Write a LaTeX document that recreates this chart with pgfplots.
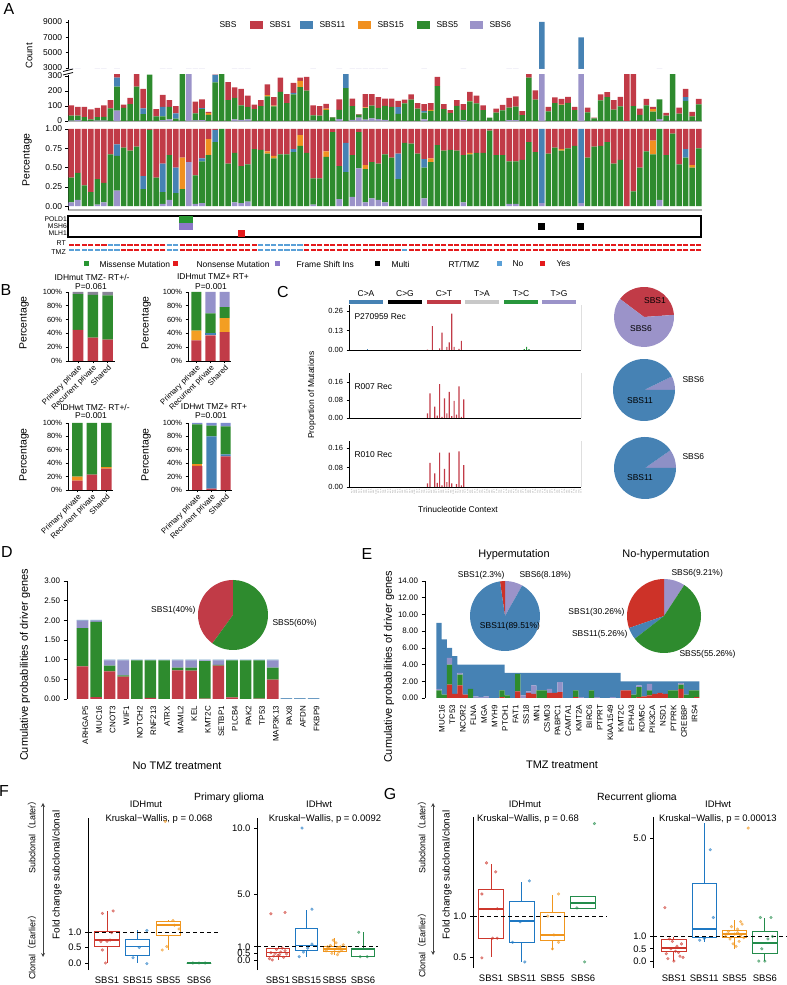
\documentclass[border=0pt]{standalone}
\usepackage{pgfplots}
\pgfplotsset{compat=1.18}
\usepackage{pgfplotstable}
\usepgfplotslibrary{statistics}
\usepackage{fontspec}
\setmainfont{Liberation Sans}
\newfontfamily\cjk{Noto Sans CJK SC}
\newcommand{\fs}[1]{\fontsize{#1}{#1}\selectfont}

\definecolor{sA}{RGB}{193,59,71}
\definecolor{sK}{RGB}{70,130,180}
\definecolor{sF}{RGB}{240,144,32}
\definecolor{sG}{RGB}{46,139,46}
\definecolor{sP}{RGB}{155,147,201}
\definecolor{mG}{RGB}{40,150,50}
\definecolor{mR}{RGB}{228,26,28}
\definecolor{mP}{RGB}{140,120,200}
\definecolor{tno}{RGB}{90,160,215}
\definecolor{tyes}{RGB}{228,26,28}
\definecolor{bR}{RGB}{205,55,45}
\definecolor{bB}{RGB}{30,120,195}
\definecolor{bO}{RGB}{240,150,30}
\definecolor{bG}{RGB}{35,140,75}
\definecolor{eR}{RGB}{205,50,40}
\definecolor{sY}{RGB}{250,190,40}
\definecolor{sQ}{RGB}{125,140,205}
\definecolor{cGr}{RGB}{200,200,200}
\definecolor{cGn}{RGB}{40,150,60}

\newcommand{\pieslice}[4]{\fill[#4] (axis cs:0,0) -- ++(#1:#3) arc[start angle=#1, end angle=#2, radius=#3] -- cycle;}

\pgfplotsset{
  /pgf/number format/assume math mode=true,
  every axis/.append style={scale only axis, font=\fs{8},
    tick align=outside, major tick length=2.5bp,
    tick style={black, line width=0.6bp}, axis line style={line width=0.8bp}},
  bxax/.style={axis y line*=left, axis x line*=bottom, x axis line style={draw=none},
    xtick style={draw=none}, xtick={1,2,3,4}, font=\fs{9.5}, major tick length=3bp,
    yticklabel style={/pgf/number format/.cd,fixed,fixed zerofill,precision=1},
    boxplot/draw direction=y,
    boxplot/box extend=0.8, boxplot/whisker extend=0,
    boxplot/every median/.style={line width=1.8bp}},
  pts/.style={only marks, mark=*, mark size=1.4bp, opacity=0.55, mark options={draw=none}},
  bstk/.style={ybar stacked, bar width=0.72, ymin=0, ymax=100, axis lines*=left,
    ytick={0,20,40,60,80,100}, yticklabels={0\%,20\%,40\%,60\%,80\%,100\%},
    xtick={1,2,3}, xticklabels={Primary private,Recurrent private,Shared},
    xticklabel style={rotate=45, anchor=north east, inner sep=0.5pt, font=\fs{7.8}}, font=\fs{7.5}},
}

% Panel A data: counts (c*) and fractions (p*) for SBS6, SBS5, SBS11, SBS15, SBS1; RT and TMZ (1 yes, 0 no)
\pgfplotstableread{
i c6 c5 c11 c15 c1 p6 p5 p11 p15 p1 rt tmz
0 3 32 0 0 70 0.05 0.32 0 0 0.63 1 0
1 5 30 0 0 60 0.08 0.35 0 0 0.57 1 0
2 0 25 0 0 70 0 0.27 0 0 0.73 1 0
3 0 10 0 0 68 0 0.18 0 0 0.82 1 0
4 2 23 0 0 63 0.02 0.33 0 0 0.65 1 0
5 3 25 0 0 77 0.05 0.25 0 0 0.70 1 0
6 0 85 0 0 55 0 0.67 0 0 0.33 0 0
7 70 160 60 0 30 0.20 0.45 0.15 0 0.20 0 0
8 0 88 0 0 22 0 0.76 0 0 0.24 1 1
9 0 113 0 0 42 0 0.72 0 0 0.28 1 1
10 0 230 0 0 90 0 0.77 0 0 0.23 1 1
11 0 45 40 0 130 0 0.22 0.17 0 0.61 1 1
12 0 310 0 0 0 0 0.99 0 0 0.01 1 1
13 0 30 0 0 50 0 0.37 0 0 0.63 1 1
14 5 25 65 0 80 0.03 0.15 0.37 0 0.45 1 1
15 10 85 0 0 45 0.08 0.58 0 0 0.34 0 0
16 0 15 35 0 50 0 0.17 0.33 0 0.50 0 0
17 0 330 0 615 555 0 0.22 0 0.41 0.37 1 1
18 342 0 0 0 258 0.57 0 0 0 0.43 1 1
19 4 46 0 0 80 0.03 0.37 0 0 0.60 1 1
20 6 74 6 0 59 0.04 0.54 0.04 0 0.38 1 1
21 0 40 0 12 8 0 0.66 0 0.21 0.13 1 1
22 0 257 50 0 3 0 0.83 0.16 0 0.01 1 1
23 0 350 0 0 0 0 1 0 0 0 1 1
24 0 140 0 0 120 0 0.55 0 0 0.45 1 1
25 10 145 0 0 70 0.05 0.64 0 0 0.31 1 1
26 8 97 0 0 110 0.04 0.48 0 0 0.48 1 1
27 10 85 0 0 75 0.06 0.48 0 0 0.46 1 1
28 0 80 0 0 30 0 0.74 0 0 0.26 1 1
29 0 100 0 0 40 0 0.73 0 0 0.27 0 0
30 0 165 0 7 73 0 0.68 0 0.03 0.29 0 0
31 0 98 0 5 57 0 0.62 0 0.03 0.35 0 0
32 0 195 0 0 95 0 0.67 0 0 0.33 0 0
33 0 120 0 0 60 0 0.67 0 0 0.33 0 0
34 0 178 10 0 67 0 0.70 0.04 0 0.26 0 0
35 0 226 0 41 23 0 0.78 0 0.14 0.08 0 0
36 0 203 0 0 92 0 0.69 0 0 0.31 1 1
37 2 36 0 0 67 0.02 0.34 0 0 0.64 1 1
38 0 36 0 0 64 0 0.36 0 0 0.64 1 1
39 0 74 0 8 33 0 0.64 0 0.07 0.29 1 1
40 0 24 0 0 1 0 0.96 0 0 0.04 1 1
41 13 62 0 0 70 0.09 0.43 0 0 0.48 1 1
42 0 220 190 0 90 0 0.44 0.38 0 0.18 1 1
43 8 91 0 0 51 0.12 0.54 0 0 0.34 1 1
44 22 21 0 0 2 0.49 0.47 0 0 0.04 1 1
45 9 77 0 5 89 0.05 0.43 0 0.05 0.47 1 1
46 18 85 0 0 77 0.10 0.47 0 0 0.43 1 1
47 13 75 0 0 72 0.08 0.47 0 0 0.45 1 1
48 8 93 0 0 49 0.05 0.62 0 0 0.33 1 1
49 0 95 0 0 55 0 0.63 0 0 0.37 1 1
50 0 47 45 0 43 0 0.35 0.33 0 0.32 1 1
51 0 117 0 0 26 0 0.82 0 0 0.18 1 0
52 0 143 0 0 34 0 0.81 0 0 0.19 1 1
53 0 82 0 0 38 0 0.68 0 0 0.32 1 1
54 11 45 12 0 44 0.10 0.40 0.11 0 0.39 1 1
55 0 68 0 6 46 0 0.57 0 0.05 0.38 1 1
56 0 233 0 0 62 0 0.79 0 0 0.21 1 1
57 0 80 0 0 32 0 0.72 0 0 0.28 1 1
58 0 53 0 0 19 0 0.73 0 0 0.27 1 1
59 0 101 0 0 39 0 0.72 0 0 0.28 1 1
60 6 68 0 0 38 0.05 0.61 0 0 0.34 1 1
61 0 131 0 4 60 0 0.67 0 0.02 0.31 1 1
62 0 117 0 0 53 0 0.69 0 0 0.31 1 1
63 0 72 0 0 33 0 0.69 0 0 0.31 1 1
64 0 22 0 0 0 0 0.98 0 0 0.02 1 1
65 0 55 0 0 28 0 0.66 0 0 0.34 1 1
66 0 71 0 0 36 0 0.66 0 0 0.34 1 1
67 5 84 0 0 65 0.03 0.55 0 0 0.42 1 1
68 5 91 0 0 69 0.03 0.55 0 0 0.42 1 1
69 0 39 0 0 26 0 0.60 0 0 0.40 1 1
70 0 290 0 0 60 0 0.83 0 0 0.17 1 1
71 0 143 0 0 62 0 0.70 0 0 0.30 1 1
72 400 0 8600 0 0 0.04 0 0.96 0 0 1 1
73 0 64 0 0 30 0 0.68 0 0 0.32 1 1
74 0 119 0 0 38 0 0.76 0 0 0.24 1 1
75 0 107 0 3 38 0 0.72 0 0.02 0.26 1 1
76 0 121 0 0 40 0 0.75 0 0 0.25 1 1
77 0 73 0 0 21 0 0.78 0 0 0.22 1 1
78 400 0 6600 0 0 0.04 0 0.96 0 0 1 1
79 0 57 0 0 33 0 0.63 0 0 0.37 1 1
80 0 17 0 0 5 0 0.77 0 0 0.23 1 1
81 0 138 0 0 39 0 0.78 0 0 0.22 1 1
82 0 159 0 0 33 0 0.83 0 0 0.17 1 1
83 0 76 0 0 63 0 0.55 0 0 0.45 1 1
84 0 97 0 0 64 0 0.60 0 0 0.40 1 1
85 0 0 0 0 400 0 0 0 0 1 1 1
86 0 99 0 0 421 0 0.19 0 0 0.81 1 1
87 0 41 0 0 42 0 0.50 0 0 0.50 1 1
88 0 105 0 0 43 0 0.71 0 0 0.29 1 1
89 0 63 0 17 14 0 0.67 0 0.18 0.15 1 1
90 12 133 0 0 0 0.08 0.92 0 0 0 1 1
91 0 36 0 0 18 0 0.66 0 0 0.34 1 1
92 0 376 0 0 24 0 0.94 0 0 0.06 1 1
93 0 49 0 0 41 0 0.54 0 0 0.46 1 1
94 0 135 24 0 56 0 0.63 0.11 0 0.26 1 1
95 0 30 0 2 28 0 0.50 0 0.03 0.47 1 1
96 0 111 0 0 37 0 0.75 0 0 0.25 1 1
}\tabA

\pgfplotstableread{
k r g p b
0 0.83 0.97 0.19 0.02
1 0.05 1.91 0.03 0.02
2 0.70 0.15 0.13 0.02
3 0.57 0.03 0.38 0.02
4 0.00 0.98 0.00 0.02
5 0.03 0.95 0.00 0.02
6 0.00 0.98 0.00 0.02
7 0.73 0.07 0.18 0.02
8 0.72 0.08 0.18 0.02
9 0.01 0.95 0.02 0.02
10 0.85 0.02 0.11 0.02
11 0.04 0.94 0.00 0.02
12 0.00 0.98 0.00 0.02
13 0.01 0.97 0.00 0.02
14 0.49 0.31 0.18 0.02
15 0 0 0 0.02
16 0 0 0 0.02
17 0 0 0 0.02
}\tabD

\pgfplotstableread{
k r g p b
0 0 0.9 0.2 7.9
1 0 0.4 0 6.6
2 1.6 2.4 0.8 1.2
3 0.5 0 0 4.5
4 1.5 1.3 0.2 1.0
5 0.4 0 0 3.6
6 0 1.1 0 2.9
7 0 0 0.2 3.8
8 0 0 0.1 3.9
9 0 0 0.2 3.8
10 0 0 0 4
11 0 0 0 4
12 0.1 0.8 0 3.1
13 0 0.3 0 2.7
14 0 0 0 3
15 0.8 2.1 0 0.1
16 0 0 0.3 2.7
17 0.6 0 0.2 2.2
18 0.5 0 1.0 1.5
19 0 0.9 0 2.1
20 0 0.9 0 2.1
21 0.6 0 0.5 1.9
22 0.6 0 0 2.4
23 0.7 0 1.2 1.1
24 0 0 0 3
25 0 0 0 3
26 0.1 0.8 0 2.1
27 0 0 0.1 2.9
28 0 0 0 3
29 0 0.9 0 2.1
30 0 0 0.1 2.9
31 0 0 0 3
32 0 0 0 3
33 0 0 0.1 2.9
34 0 0 0 3
35 0.9 0 0 1.1
36 0.9 0 0 1.1
37 0 0.4 0 1.6
38 0.1 1.2 0.2 0.5
39 0.2 0 0 1.8
40 0.3 0.6 0.8 0.3
41 0.5 0 0 1.5
42 0.6 0 0 1.4
43 0.5 0 0 1.5
44 0 0.9 0 1.1
45 0 0.9 0 1.1
46 1.1 0.5 0.2 0.2
47 0 0.4 0 1.6
48 0 0.9 0 1.1
49 0.1 0.8 0 1.1
}\tabE

\begin{document}
\begin{tikzpicture}
\useasboundingbox (0,0) rectangle (787bp,985bp);

%================ A ================
\node[font=\fs{16}] at (9bp,976bp) {A};
\node[anchor=west,font=\fs{8.5}] at (216bp,960bp) {SBS};
\fill[sA] (250bp,956bp) rectangle (263bp,964bp); \node[anchor=west,font=\fs{8.5}] at (266bp,960bp){SBS1};
\fill[sK] (300bp,956bp) rectangle (313bp,964bp); \node[anchor=west,font=\fs{8.5}] at (316bp,960bp){SBS11};
\fill[sF] (358bp,956bp) rectangle (371bp,964bp); \node[anchor=west,font=\fs{8.5}] at (374bp,960bp){SBS15};
\fill[sG] (417bp,956bp) rectangle (430bp,964bp); \node[anchor=west,font=\fs{8.5}] at (433bp,960bp){SBS5};
\fill[sP] (470bp,956bp) rectangle (483bp,964bp); \node[anchor=west,font=\fs{8.5}] at (486bp,960bp){SBS6};
\node[rotate=90,font=\fs{9.5}] at (29bp,929bp) {Count};
\node[rotate=90,font=\fs{10.5}] at (27bp,825bp) {Percentage};

% count, lower part
\begin{axis}[at={(68bp,864bp)}, anchor=south west, width=634bp, height=46bp, font=\fs{8.5},
  xmin=-0.5, xmax=96.5, ymin=0, ymax=307, ybar stacked, bar width=0.85,
  axis lines*=left, x axis line style={draw=gray!60, line width=1.6bp},
  xtick=\empty, ytick={0,100,200,300}]
\addplot[fill=sP, draw=none] table[x=i,y=c6]{\tabA};
\addplot[fill=sG, draw=none] table[x=i,y=c5]{\tabA};
\addplot[fill=sK, draw=none] table[x=i,y=c11]{\tabA};
\addplot[fill=sF, draw=none] table[x=i,y=c15]{\tabA};
\addplot[fill=sA, draw=none] table[x=i,y=c1]{\tabA};
\end{axis}
% count, upper part
\begin{axis}[at={(68bp,916bp)}, anchor=south west, width=634bp, height=49bp, font=\fs{8.5},
  xmin=-0.5, xmax=96.5, ymin=2870, ymax=9260, ybar stacked, bar width=0.85,
  axis x line=none, axis y line*=left,
  ytick={3000,5000,7000,9000}, yticklabels={3000,5000,7000,9000}]
\addplot[fill=sP, draw=none] table[x=i,y=c6]{\tabA};
\addplot[fill=sG, draw=none] table[x=i,y=c5]{\tabA};
\addplot[fill=sK, draw=none] table[x=i,y=c11]{\tabA};
\addplot[fill=sF, draw=none] table[x=i,y=c15]{\tabA};
\addplot[fill=sA, draw=none] table[x=i,y=c1]{\tabA};
\end{axis}
\fill[white] (64bp,911bp) rectangle (72bp,915bp);
\draw[line width=0.8bp] (63bp,910bp) -- (73bp,912.5bp);
\draw[line width=0.8bp] (63bp,913.5bp) -- (73bp,916bp);

% percentage
\begin{axis}[at={(68bp,775bp)}, anchor=south west, width=634bp, height=81bp, font=\fs{8.5},
  xmin=-0.5, xmax=96.5, ymin=-0.05, ymax=1.0, ybar stacked, bar width=0.85,
  axis lines*=left, x axis line style={draw=gray!60, line width=1.6bp},
  xtick=\empty, ytick={0,0.25,0.5,0.75,1},
  yticklabel style={/pgf/number format/.cd, fixed, fixed zerofill, precision=2}]
\addplot[fill=sP, draw=none] table[x=i,y=p6]{\tabA};
\addplot[fill=sG, draw=none] table[x=i,y=p5]{\tabA};
\addplot[fill=sK, draw=none] table[x=i,y=p11]{\tabA};
\addplot[fill=sF, draw=none] table[x=i,y=p15]{\tabA};
\addplot[fill=sA, draw=none] table[x=i,y=p1]{\tabA};
\end{axis}

% mutation heatmap
\begin{axis}[at={(68bp,748bp)}, anchor=south west, width=633bp, height=21bp,
  xmin=-0.5, xmax=96.5, ymin=0, ymax=3, axis line style={line width=1.1bp},
  xtick=\empty, ytick={0.5,1.5,2.5}, yticklabels={MLH1,MSH6,POLD1}, major tick length=0pt,
  yticklabel style={font=\fs{6.8}, inner sep=1pt}]
\addplot[only marks, mark=square*, mark size=3.2bp, color=mG] coordinates {(17,2.5) (18,2.5)};
\addplot[only marks, mark=square*, mark size=3.2bp, color=mP] coordinates {(17,1.5) (18,1.5)};
\addplot[only marks, mark=square*, mark size=3.2bp, color=mR] coordinates {(26,0.5)};
\addplot[only marks, mark=square*, mark size=2.8bp, color=black] coordinates {(72,1.5) (78,1.5)};
\end{axis}

% RT / TMZ tracks
\begin{axis}[at={(68bp,733bp)}, anchor=south west, width=634bp, height=9bp, hide axis,
  xmin=-0.5, xmax=96.5, ymin=-0.5, ymax=1.5, clip=false]
\addplot[scatter, only marks, scatter src=explicit symbolic, mark size=2.6bp, line width=1.8bp,
  scatter/classes={0={mark=-, tno}, 1={mark=-, tyes}}] table[x=i, y expr=1, meta=rt]{\tabA};
\addplot[scatter, only marks, scatter src=explicit symbolic, mark size=2.6bp, line width=1.8bp,
  scatter/classes={0={mark=-, tno}, 1={mark=-, tyes}}] table[x=i, y expr=0, meta=tmz]{\tabA};
\end{axis}
\node[anchor=east,font=\fs{7}, inner sep=1pt] at (67bp,742bp) {RT};
\node[anchor=east,font=\fs{7}, inner sep=1pt] at (67bp,733bp) {TMZ};

% legend row
\begin{scope}[font=\fs{8.5}]
\fill[mG] (84bp,718.5bp) rectangle (89bp,723.5bp); \node[anchor=west] at (96bp,721bp) {Missense Mutation};
\fill[mR] (173bp,718.5bp) rectangle (178bp,723.5bp); \node[anchor=west] at (193bp,721bp) {Nonsense Mutation};
\fill[mP] (275bp,718.5bp) rectangle (280bp,723.5bp); \node[anchor=west] at (293bp,721bp) {Frame Shift Ins};
\fill[black] (375bp,718.5bp) rectangle (380bp,723.5bp); \node[anchor=west] at (388bp,721bp) {Multi};
\node[anchor=west] at (445bp,721bp) {RT/TMZ};
\fill[tno] (497bp,718.5bp) rectangle (502bp,723.5bp); \node[anchor=west] at (509bp,721bp) {No};
\fill[tyes] (540bp,718.5bp) rectangle (545bp,723.5bp); \node[anchor=west] at (553bp,721bp) {Yes};
\end{scope}

%================ B ================
\node[font=\fs{16}] at (6bp,695bp) {B};
\begin{scope}[font=\fs{8.5}]
\node at (92bp,708bp) {IDHmut TMZ- RT+/-}; \node at (91bp,698bp) {P=0.061};
\node at (213bp,708bp) {IDHmut TMZ+ RT+}; \node at (211bp,698bp) {P=0.001};
\node at (95bp,578bp) {IDHwt TMZ- RT+/-}; \node at (91bp,569bp) {P=0.001};
\node at (214bp,578bp) {IDHwt TMZ+ RT+}; \node at (211bp,569bp) {P=0.001};
\end{scope}
\node[rotate=90,font=\fs{10.5}] at (24bp,662bp) {Percentage};
\node[rotate=90,font=\fs{10.5}] at (146bp,662bp) {Percentage};
\node[rotate=90,font=\fs{10.5}] at (24bp,530bp) {Percentage};
\node[rotate=90,font=\fs{10.5}] at (146bp,530bp) {Percentage};

\begin{axis}[bstk, at={(68bp,624bp)}, anchor=south west, width=47bp, height=69bp, xmin=0.32, xmax=3.5]
\addplot[fill=sA, draw=none] coordinates {(1,45) (2,34) (3,31)};
\addplot[fill=sG, draw=none] coordinates {(1,52) (2,62) (3,64)};
\addplot[fill=gray!70!sP, draw=none] coordinates {(1,3) (2,4) (3,5)};
\end{axis}
\begin{axis}[bstk, at={(188bp,624bp)}, anchor=south west, width=43bp, height=69bp, xmin=0.41, xmax=3.45]
\addplot[fill=sA, draw=none] coordinates {(1,30) (2,37) (3,42)};
\addplot[fill=sF!70!sY, draw=none] coordinates {(1,14) (2,0) (3,20)};
\addplot[fill=sK, draw=none] coordinates {(1,0) (2,3) (3,0)};
\addplot[fill=sG, draw=none] coordinates {(1,56) (2,29) (3,16)};
\addplot[fill=sP!80!sQ, draw=none] coordinates {(1,0) (2,31) (3,22)};
\end{axis}
\begin{axis}[bstk, at={(68bp,495bp)}, anchor=south west, width=45bp, height=67bp, xmin=0.35, xmax=3.45]
\addplot[fill=sA, draw=none] coordinates {(1,14) (2,23) (3,32)};
\addplot[fill=sF, draw=none] coordinates {(1,6) (2,0) (3,2)};
\addplot[fill=sG, draw=none] coordinates {(1,80) (2,77) (3,66)};
\end{axis}
\begin{axis}[bstk, at={(188bp,495bp)}, anchor=south west, width=44bp, height=67bp, xmin=0.35, xmax=3.45]
\addplot[fill=sA, draw=none] coordinates {(1,36) (2,2) (3,50)};
\addplot[fill=sF, draw=none] coordinates {(1,3) (2,0) (3,0)};
\addplot[fill=sK, draw=none] coordinates {(1,0) (2,78) (3,3)};
\addplot[fill=sG, draw=none] coordinates {(1,59) (2,16) (3,42)};
\addplot[fill=sQ, draw=none] coordinates {(1,2) (2,4) (3,5)};
\end{axis}

%================ C ================
\node[font=\fs{16}] at (283bp,693bp) {C};
\begin{scope}[font=\fs{8.5}]
\fill[sK] (349bp,681bp) rectangle (383bp,685bp); \node at (366bp,691bp) {C>A};
\fill[black] (388bp,681bp) rectangle (422bp,685bp); \node at (405bp,691bp) {C>G};
\fill[sA] (427bp,681bp) rectangle (461bp,685bp); \node at (444bp,691bp) {C>T};
\fill[cGr] (465bp,681bp) rectangle (499bp,685bp); \node at (482bp,691bp) {T>A};
\fill[cGn] (504bp,681bp) rectangle (538bp,685bp); \node at (521bp,691bp) {T>C};
\fill[sP] (542bp,681bp) rectangle (576bp,685bp); \node at (559bp,691bp) {T>G};
\node[rotate=90] at (312bp,590bp) {Proportion of Mutations};
\node[anchor=west] at (351bp,668bp) {P270959 Rec};
\node[anchor=west] at (351bp,598bp) {R007 Rec};
\node[anchor=west] at (351bp,530bp) {R010 Rec};
\node at (458bp,476bp) {Trinucleotide Context};
\end{scope}

\begin{axis}[at={(349bp,635bp)}, anchor=south west, width=232bp, height=45bp,
  xmin=-0.5, xmax=95.5, ymin=0, ymax=0.30, axis lines*=left, font=\fs{7.5},
  xtick=\empty, ytick={0,0.13,0.26},
  yticklabel style={/pgf/number format/.cd, fixed, fixed zerofill, precision=2}]
\addplot[ybar, bar width=0.5, bar shift=0pt, fill=sA, draw=none] coordinates {(32,0.003) (34,0.159) (37,0.01) (38,0.115) (40,0.02) (41,0.05) (42,0.242) (43,0.02) (45,0.008) (46,0.06)};
\addplot[ybar, bar width=0.5, bar shift=0pt, fill=cGn, draw=none] coordinates {(72,0.005) (73,0.02) (74,0.005)};
\addplot[ybar, bar width=0.5, bar shift=0pt, fill=sK, draw=none] coordinates {(7,0.006)};
\draw[line width=0.8bp] (rel axis cs:1,0) -- (rel axis cs:1,1);
\end{axis}
\begin{axis}[at={(349bp,567bp)}, anchor=south west, width=232bp, height=45bp,
  xmin=-0.5, xmax=95.5, ymin=0, ymax=0.20, axis lines*=left, font=\fs{7.5},
  xtick=\empty, ytick={0,0.08,0.16},
  yticklabel style={/pgf/number format/.cd, fixed, fixed zerofill, precision=2}]
\addplot[ybar, bar width=0.5, bar shift=0pt, fill=sA, draw=none] coordinates {(32,0.02) (33,0.109) (35,0.05) (36,0.01) (37,0.150) (38,0.005) (39,0.087) (40,0.02) (41,0.116) (42,0.008) (43,0.076) (44,0.015) (45,0.14) (46,0.005) (47,0.083)};
\draw[line width=0.8bp] (rel axis cs:1,0) -- (rel axis cs:1,1);
\end{axis}
\begin{axis}[at={(349bp,498bp)}, anchor=south west, width=232bp, height=46bp,
  xmin=-0.5, xmax=95.5, ymin=0, ymax=0.19, axis lines*=left, font=\fs{7.5},
  ytick={0,0.08,0.16},
  yticklabel style={/pgf/number format/.cd, fixed, fixed zerofill, precision=2},
  xtick={0,...,95}, xtick style={draw=none},
  xticklabels={ACA,ACC,ACG,ACT,CCA,CCC,CCG,CCT,GCA,GCC,GCG,GCT,TCA,TCC,TCG,TCT,ACA,ACC,ACG,ACT,CCA,CCC,CCG,CCT,GCA,GCC,GCG,GCT,TCA,TCC,TCG,TCT,ACA,ACC,ACG,ACT,CCA,CCC,CCG,CCT,GCA,GCC,GCG,GCT,TCA,TCC,TCG,TCT,ATA,ATC,ATG,ATT,CTA,CTC,CTG,CTT,GTA,GTC,GTG,GTT,TTA,TTC,TTG,TTT,ATA,ATC,ATG,ATT,CTA,CTC,CTG,CTT,GTA,GTC,GTG,GTT,TTA,TTC,TTG,TTT,ATA,ATC,ATG,ATT,CTA,CTC,CTG,CTT,GTA,GTC,GTG,GTT,TTA,TTC,TTG,TTT},
  xticklabel style={rotate=90, anchor=east, font=\fs{1.9}, text=gray, inner sep=0pt, yshift=-1.5bp}]
\addplot[ybar, bar width=0.5, bar shift=0pt, fill=sA, draw=none] coordinates {(32,0.015) (33,0.10) (35,0.056) (36,0.017) (37,0.142) (38,0.007) (39,0.075) (40,0.02) (41,0.142) (42,0.015) (44,0.012) (45,0.147) (46,0.007) (47,0.09)};
\draw[line width=0.8bp] (rel axis cs:1,0) -- (rel axis cs:1,1);
\end{axis}

% pies C
\begin{axis}[at={(644bp,668bp)}, anchor=center, width=60bp, height=60bp, hide axis, xmin=-30, xmax=30, ymin=-30, ymax=30, clip=false]
\pieslice{4}{143}{30bp}{sA}
\pieslice{143}{364}{30bp}{sP}
\end{axis}
\begin{axis}[at={(644bp,595bp)}, anchor=center, width=62bp, height=62bp, hide axis, xmin=-31, xmax=31, ymin=-31, ymax=31, clip=false]
\pieslice{0}{26}{31bp}{sP!85!sK}
\pieslice{26}{360}{31bp}{sK}
\end{axis}
\begin{axis}[at={(645bp,517bp)}, anchor=center, width=62bp, height=62bp, hide axis, xmin=-31, xmax=31, ymin=-31, ymax=31, clip=false]
\pieslice{0}{35}{31bp}{sP!85!sK}
\pieslice{35}{360}{31bp}{sK}
\end{axis}
\begin{scope}[font=\fs{8.5}]
\node at (655bp,684bp) {SBS1};
\node at (641bp,656bp) {SBS6};
\node[anchor=west] at (679bp,605bp) {SBS6};
\node at (640bp,584bp) {SBS11};
\node[anchor=west] at (679bp,528bp) {SBS6};
\node at (640bp,507bp) {SBS11};
\end{scope}

%================ D ================
\node[font=\fs{16}] at (7bp,433bp) {D};
\node[rotate=90,font=\fs{11}] at (25bp,320bp) {Cumulative probabilities of driver genes};
\node[font=\fs{11}] at (177bp,219bp) {No TMZ treatment};
\begin{axis}[at={(67bp,286bp)}, anchor=south west, width=254bp, height=118bp,
  xmin=-1.14, xmax=17.55, ymin=0, ymax=3, ybar stacked, bar width=0.85,
  axis y line*=left, axis x line*=bottom, x axis line style={draw=none}, xtick style={draw=none},
  ytick={0,0.5,1,1.5,2,2.5,3}, major tick length=3.5bp,
  yticklabel style={/pgf/number format/.cd, fixed, fixed zerofill, precision=2},
  xtick={0,...,17},
  xticklabels={ARHGAP5,MUC16,CNOT3,WIF1,NOTCH2,RNF213,ATRX,MAML2,KEL,KMT2C,SETBP1,PLCB4,PAK2,TP53,MAP3K13,PAX8,AFDN,FKBP9},
  xticklabel style={rotate=90, anchor=east, font=\fs{8}, yshift=-3bp}]
\addplot[fill=sA, draw=none] table[x=k,y=r]{\tabD};
\addplot[fill=sG, draw=none] table[x=k,y=g]{\tabD};
\addplot[fill=sP!90!sK, draw=none] table[x=k,y=p]{\tabD};
\addplot[fill=sK!80!white, draw=none] table[x=k,y=b]{\tabD};
\end{axis}
\begin{axis}[at={(233bp,370bp)}, anchor=center, width=70bp, height=70bp, hide axis, xmin=-35, xmax=35, ymin=-35, ymax=35, clip=false]
\pieslice{90}{234}{35bp}{sA}
\pieslice{234}{450}{35bp}{sG}
\end{axis}
\node[anchor=east,font=\fs{8.5}] at (199bp,375bp) {SBS1(40\%)};
\node[anchor=west,font=\fs{8.5}] at (269bp,362bp) {SBS5(60\%)};

%================ E ================
\node[font=\fs{16}] at (367bp,431bp) {E};
\node[rotate=90,font=\fs{11}] at (389bp,318bp) {Cumulative probabilities of driver genes};
\node[font=\fs{11}] at (562bp,220bp) {TMZ treatment};
\begin{axis}[at={(425bp,287bp)}, anchor=south west, width=275bp, height=117bp,
  xmin=-2.64, xmax=49.6, ymin=0, ymax=14, ybar stacked, bar width=1,
  axis y line*=left, axis x line*=bottom, x axis line style={draw=none}, xtick style={draw=none},
  ytick={0,2,4,6,8,10,12,14}, major tick length=3.5bp,
  yticklabel style={/pgf/number format/.cd, fixed, fixed zerofill, precision=2},
  xtick={0,2,...,48},
  xticklabels={MUC16,TP53,NCOR2,FLNA,MGA,MYH9,PTCH1,FAT1,SS18,MN1,CSMD3,PABPC1,CAMTA1,KMT2A,BIRC6,PTPRT,KIAA1549,KMT2C,EPHA3,KDM5C,PIK3CA,NSD1,PTPRK,CREBBP,IRS4},
  xticklabel style={rotate=90, anchor=east, font=\fs{8}, yshift=-3bp}]
\addplot[fill=eR, draw=none] table[x=k,y=r]{\tabE};
\addplot[fill=sG, draw=none] table[x=k,y=g]{\tabE};
\addplot[fill=sP!90!sK, draw=none] table[x=k,y=p]{\tabE};
\addplot[fill=sK, draw=none] table[x=k,y=b]{\tabE};
\end{axis}
\begin{axis}[at={(505bp,369bp)}, anchor=center, width=70bp, height=70bp, hide axis, xmin=-35, xmax=35, ymin=-35, ymax=35, clip=false]
\pieslice{60.6}{90}{35bp}{sP}
\pieslice{90}{98.3}{35bp}{eR}
\pieslice{98.3}{420.6}{35bp}{sK}
\end{axis}
\begin{axis}[at={(664bp,369bp)}, anchor=center, width=74bp, height=74bp, hide axis, xmin=-37, xmax=37, ymin=-37, ymax=37, clip=false]
\pieslice{56.8}{90}{37bp}{sP}
\pieslice{90}{199}{37bp}{eR}
\pieslice{199}{217.9}{37bp}{sK}
\pieslice{217.9}{416.8}{37bp}{sG}
\end{axis}
\begin{scope}[font=\fs{8.5}]
\node[font=\fs{11}] at (514bp,430bp) {Hypermutation};
\node[font=\fs{11}] at (666bp,430bp) {No-hypermutation};
\node[anchor=east] at (508bp,410bp) {SBS1(2.3\%)};
\node[anchor=west] at (516bp,410bp) {SBS6(8.18\%)};
\node at (510bp,359bp) {SBS11(89.51\%)};
\node[anchor=west] at (668bp,412bp) {SBS6(9.21\%)};
\node[anchor=east] at (628bp,373bp) {SBS1(30.26\%)};
\node[anchor=east] at (631bp,351bp) {SBS11(5.26\%)};
\node[anchor=west] at (676bp,331bp) {SBS5(55.26\%)};
\end{scope}

%================ F ================
\node[font=\fs{16}] at (4bp,194bp) {F};
\node[font=\fs{10.5}] at (229bp,187bp) {Primary glioma};
\node[font=\fs{9.5}] at (146bp,181bp) {IDHmut};
\node[font=\fs{9.5}] at (319bp,181bp) {IDHwt};
\node[font=\fs{9.5}] at (159bp,166bp) {Kruskal−Wallis, p = 0.068};
\node[font=\fs{9.5}] at (325bp,166bp) {Kruskal−Wallis, p = 0.0092};
\draw[<->, >=stealth, line width=0.8bp, black!75] (43bp,28bp) -- (43bp,182bp);
\node[rotate=90,font=\fs{9}] at (32bp,150bp) {Subclonal{\cjk （}Later{\cjk ）}};
\node[rotate=90,font=\fs{9}] at (32bp,40bp) {Clonal{\cjk （}Earlier{\cjk ）}};
\node[rotate=90,font=\fs{10}] at (57bp,110bp) {Fold change subclonal/clonal};

\begin{axis}[bxax, at={(88bp,15bp)}, anchor=south west, width=130bp, height=152bp,
  xmin=0.38, xmax=4.62, ymin=-0.226, ymax=4.68, ytick={0,0.5,1},
  xticklabels={SBS1,SBS15,SBS5,SBS6}]
\addplot[bR, fill=white, line width=0.9bp, boxplot prepared={draw position=1, median=0.73, lower quartile=0.53, upper quartile=1.02, lower whisker=0, upper whisker=1.68}] coordinates {};
\addplot[bB, fill=white, line width=0.9bp, boxplot prepared={draw position=2, median=0.53, lower quartile=0.25, upper quartile=0.77, lower whisker=0, upper whisker=1.05}] coordinates {};
\addplot[bO, fill=white, line width=0.9bp, boxplot prepared={draw position=3, median=1.22, lower quartile=0.90, upper quartile=1.33, lower whisker=0.42, upper whisker=1.40}] coordinates {};
\addplot[bG, fill=white, line width=0.9bp, boxplot prepared={draw position=4, median=0, lower quartile=0, upper quartile=0, lower whisker=0, upper whisker=0}] coordinates {};
\addplot[pts, bR] coordinates {(0.85,1.60) (1.2,1.68) (0.8,0.69) (0.85,0.42) (1.1,0.74) (1.15,0.98) (0.95,0.0) (1.0,0.7)};
\addplot[pts, bB] coordinates {(1.85,0.17) (2.3,-0.02) (2.3,1.05) (2.05,0.5)};
\addplot[pts, bO] coordinates {(2.8,0.42) (2.95,0.53) (3.15,1.37) (3.2,1.22) (3.35,1.1) (2.9,4.57)};
\addplot[pts, bG] coordinates {(3.8,0) (4.2,0) (4.0,0)};
\addplot[black, line width=1bp, dash pattern=on 4bp off 3bp] coordinates {(0.38,1) (4.62,1)};
\end{axis}

\begin{axis}[bxax, at={(257bp,15bp)}, anchor=south west, width=121bp, height=152bp,
  xmin=0.26, xmax=4.53, ymin=-0.76, ymax=10.76, ytick={0,0.5,1,5,10},
  xticklabels={SBS1,SBS15,SBS5,SBS6}]
\addplot[bR, fill=white, line width=0.9bp, boxplot prepared={draw position=1, median=0.56, lower quartile=0.25, upper quartile=0.84, lower whisker=0, upper whisker=1.0}] coordinates {};
\addplot[bB, fill=white, line width=0.9bp, boxplot prepared={draw position=2, median=1.1, lower quartile=0.7, upper quartile=2.4, lower whisker=0.25, upper whisker=3.8}] coordinates {};
\addplot[bO, fill=white, line width=0.9bp, boxplot prepared={draw position=3, median=0.84, lower quartile=0.63, upper quartile=1.06, lower whisker=0.38, upper whisker=1.7}] coordinates {};
\addplot[bG, fill=white, line width=0.9bp, boxplot prepared={draw position=4, median=0.8, lower quartile=0.25, upper quartile=0.85, lower whisker=0.25, upper whisker=2.1}] coordinates {};
\addplot[pts, bR] coordinates {(0.75,3.5) (1.25,3.6) (0.7,0.1) (0.8,0.0) (0.85,0.3) (0.9,0.5) (0.95,0.8) (1.05,0.4) (1.1,0.6) (1.15,0.9) (1.2,0.2) (1.25,0.7) (0.75,0.55) (1.0,0.35) (1.3,0.45)};
\addplot[pts, bB] coordinates {(2.2,3.85) (1.75,0.25) (1.9,0.6) (2.2,1.2) (1.85,10.0) (2.05,0.9)};
\addplot[pts, bO] coordinates {(2.7,0.7) (2.8,0.9) (2.85,1.1) (2.9,0.5) (3.0,0.8) (3.05,1.3) (3.1,0.95) (3.15,0.6) (3.2,1.0) (3.25,0.75) (3.3,1.15) (2.75,1.0) (2.95,1.5) (3.1,0.4) (3.2,0.85)};
\addplot[pts, bG] coordinates {(3.85,2.1) (3.9,0.25) (4.15,0.25)};
\addplot[black, line width=1bp, dash pattern=on 4bp off 3bp] coordinates {(0.26,1) (4.53,1)};
\end{axis}

%================ G ================
\node[font=\fs{16}] at (390bp,191bp) {G};
\node[font=\fs{10.5}] at (637bp,187bp) {Recurrent glioma};
\node[font=\fs{9.5}] at (525bp,181bp) {IDHmut};
\node[font=\fs{9.5}] at (718bp,181bp) {IDHwt};
\node[font=\fs{9.5}] at (528bp,166bp) {Kruskal−Wallis, p = 0.68};
\node[font=\fs{9.5}, anchor=west, inner sep=0pt] at (659bp,166bp) {Kruskal−Wallis, p = 0.00013};
\draw[<->, >=stealth, line width=0.8bp, black!75] (433bp,30bp) -- (433bp,182bp);
\node[rotate=90,font=\fs{9}] at (422bp,150bp) {Subclonal{\cjk （}Later{\cjk ）}};
\node[rotate=90,font=\fs{9}] at (422bp,42bp) {Clonal{\cjk （}Earlier{\cjk ）}};
\node[rotate=90,font=\fs{10}] at (447bp,110bp) {Fold change subclonal/clonal};

\begin{axis}[bxax, at={(473bp,17bp)}, anchor=south west, width=134bp, height=151bp,
  xmin=0.41, xmax=4.78, ymin=0.366, ymax=2.21, ytick={0.5,1},
  xticklabels={SBS1,SBS11,SBS5,SBS6}]
\addplot[bR, fill=white, line width=0.9bp, boxplot prepared={draw position=1, median=1.09, lower quartile=0.73, upper quartile=1.33, lower whisker=0.5, upper whisker=1.63}] coordinates {};
\addplot[bB, fill=white, line width=0.9bp, boxplot prepared={draw position=2, median=0.94, lower quartile=0.68, upper quartile=1.18, lower whisker=0.44, upper whisker=1.42}] coordinates {};
\addplot[bO, fill=white, line width=0.9bp, boxplot prepared={draw position=3, median=0.77, lower quartile=0.70, upper quartile=1.05, lower whisker=0.58, upper whisker=1.26}] coordinates {};
\addplot[bG, fill=white, line width=0.9bp, boxplot prepared={draw position=4, median=1.16, lower quartile=1.09, upper quartile=1.24, lower whisker=1.09, upper whisker=1.24}] coordinates {};
\addplot[pts, bR] coordinates {(0.7,0.49) (0.85,1.65) (1.15,1.54) (0.7,1.27) (1.2,1.09) (1.05,0.73) (1.2,0.73)};
\addplot[pts, bB] coordinates {(2.25,1.43) (2.1,0.44) (1.95,0.93) (1.7,0.68)};
\addplot[pts, bO] coordinates {(3.2,1.27) (2.85,1.0) (3.0,0.6) (3.2,0.68) (3.05,0.77)};
\addplot[pts, bG] coordinates {(4.37,2.13) (4.05,0.44) (3.8,1.1)};
\addplot[black, line width=1bp, dash pattern=on 4bp off 3bp] coordinates {(0.41,1) (4.78,1)};
\end{axis}

\begin{axis}[bxax, at={(653bp,17bp)}, anchor=south west, width=134bp, height=151bp,
  xmin=0.31, xmax=4.73, ymin=-0.28, ymax=5.85, ytick={0,0.5,1,5},
  xticklabels={SBS1,SBS11,SBS5,SBS6}]
\addplot[bR, fill=white, line width=0.9bp, boxplot prepared={draw position=1, median=0.52, lower quartile=0.38, upper quartile=0.86, lower whisker=0, upper whisker=0.99}] coordinates {};
\addplot[bB, fill=white, line width=0.9bp, boxplot prepared={draw position=2, median=1.30, lower quartile=0.96, upper quartile=3.15, lower whisker=0.79, upper whisker=5.6}] coordinates {};
\addplot[bO, fill=white, line width=0.9bp, boxplot prepared={draw position=3, median=1.09, lower quartile=0.95, upper quartile=1.26, lower whisker=0.49, upper whisker=1.67}] coordinates {};
\addplot[bG, fill=white, line width=0.9bp, boxplot prepared={draw position=4, median=0.72, lower quartile=0.31, upper quartile=1.20, lower whisker=0, upper whisker=1.77}] coordinates {};
\addplot[pts, bR] coordinates {(0.7,2.17) (0.75,0.3) (0.8,0.1) (0.9,0.5) (0.95,0.8) (1.0,0.0) (1.05,0.4) (1.1,0.6) (1.2,0.2) (1.25,0.7) (0.85,0.9) (1.15,0.35) (1.3,0.15)};
\addplot[pts, bB] coordinates {(2.2,4.52) (2.3,1.77) (1.85,0.85) (2.0,0.92)};
\addplot[pts, bO] coordinates {(3.45,5.4) (2.7,1.0) (2.8,1.2) (2.85,0.9) (2.9,1.4) (3.0,1.1) (3.05,0.6) (3.1,1.3) (3.15,0.8) (3.2,1.05) (3.25,1.5) (3.3,0.95) (2.75,1.1) (2.95,0.7) (3.1,1.15) (3.2,1.6)};
\addplot[pts, bG] coordinates {(3.85,1.77) (4.2,1.77) (3.8,0.0) (4.0,0.0) (4.1,0.9) (4.25,1.0) (3.9,0.5)};
\addplot[black, line width=1bp, dash pattern=on 4bp off 3bp] coordinates {(0.31,1) (4.73,1)};
\end{axis}

\end{tikzpicture}
\end{document}
